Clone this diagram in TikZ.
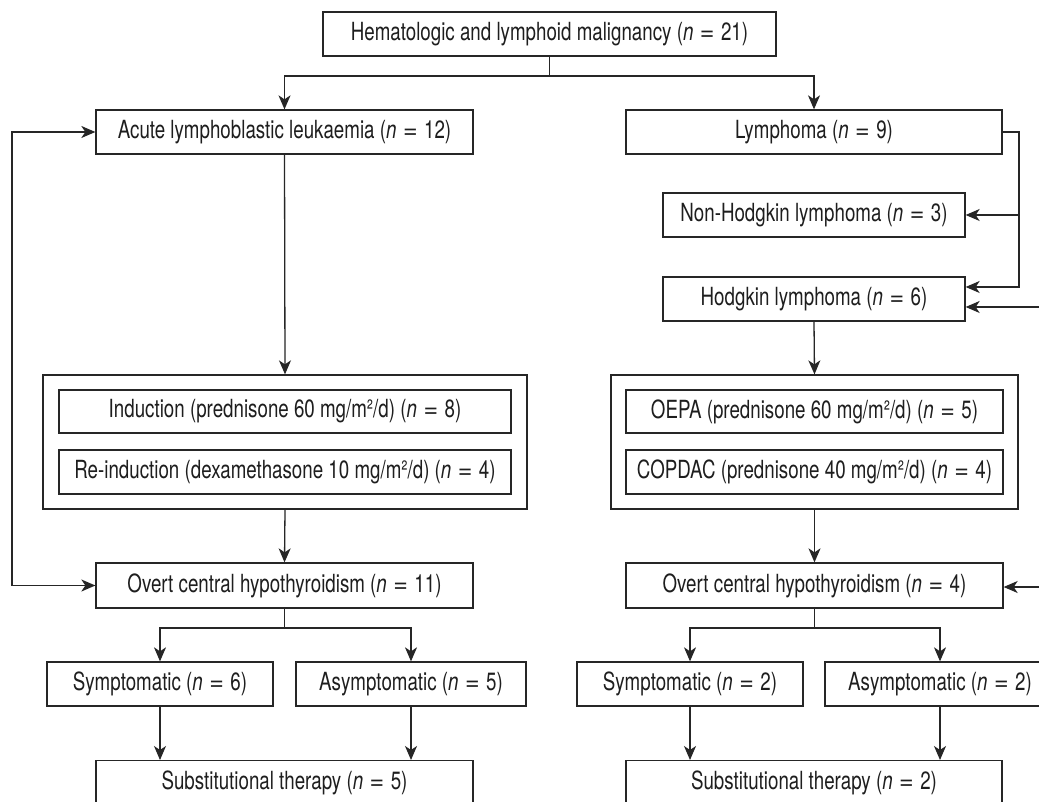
\documentclass[tikz,border=0pt]{standalone}
\usepackage{fontspec}
\setmainfont{TeX Gyre Heros}[FakeStretch=0.75]
\newfontfamily\eqfont{TeX Gyre Heros}
\newcommand{\eqs}{\hspace{0.26em}{\eqfont=}\hspace{0.26em}}
\newcommand{\nn}{\textit{n}\eqs}
\usetikzlibrary{arrows.meta}
\definecolor{lc}{HTML}{262626}
\definecolor{tc}{HTML}{1E1E1E}
\begin{document}
\begin{tikzpicture}[x=1pt,y=-1pt,
  box/.style={draw=lc, line width=1.3pt, minimum height=44pt, inner sep=0pt, text=tc, font=\fontsize{25}{28}\selectfont},
  grp/.style={draw=lc, line width=1.3pt, inner sep=0pt},
  ln/.style={draw=lc, line width=1.3pt},
  arr/.style={draw=lc, line width=1.3pt, -{Stealth[length=14pt,width=12pt,inset=4pt]}},
  arrboth/.style={draw=lc, line width=1.3pt, {Stealth[length=14pt,width=12pt,inset=4pt]}-{Stealth[length=14pt,width=12pt,inset=4pt]}}]
\useasboundingbox (0,0) rectangle (1039,802);
\clip (0,0) rectangle (1039,802);
\fill[white] (0,0) rectangle (1039,802);

% top
\node[box, minimum width=453pt] (top) at (549.5,34) {Hematologic and lymphoid malignancy (\nn 21)};
\node[box, minimum width=377pt] (all) at (284.5,132) {Acute lymphoblastic leukaemia (\nn 12)};
\node[box, minimum width=376pt] (lym) at (814,132) {Lymphoma (\nn 9)};
\node[box, minimum width=302pt] (nhl) at (814,215) {Non-Hodgkin lymphoma (\nn 3)};
\node[box, minimum width=302pt] (hod) at (814,299) {Hodgkin lymphoma (\nn 6)};

% groups
\node[grp, minimum width=484pt, minimum height=134pt] (gL) at (285,442) {};
\node[box, minimum width=452pt, minimum height=43pt] (ind) at (285,411.5) {Induction (prednisone 60 mg/m²/d) (\nn 8)};
\node[box, minimum width=452pt, minimum height=44pt] (rei) at (285,472) {Re-induction (dexamethasone 10 mg/m²/d) (\nn 4)};
\node[grp, minimum width=407pt, minimum height=134pt] (gR) at (814.5,442) {};
\node[box, minimum width=377pt, minimum height=43pt] (oepa) at (814.5,411.5) {OEPA (prednisone 60 mg/m²/d) (\nn 5)};
\node[box, minimum width=377pt, minimum height=44pt] (cop) at (814.5,472) {COPDAC (prednisone 40 mg/m²/d) (\nn 4)};

% overt
\node[box, minimum width=377pt, minimum height=45pt] (oL) at (284.5,585.5) {Overt central hypothyroidism (\nn 11)};
\node[box, minimum width=377pt, minimum height=45pt] (oR) at (814.5,585.5) {Overt central hypothyroidism (\nn 4)};

% symptomatic
\node[box, minimum width=226pt] (symL) at (160,684) {Symptomatic (\nn 6)};
\node[box, minimum width=230pt] (asymL) at (411,684) {Asymptomatic (\nn 5)};
\node[box, minimum width=226pt] (symR) at (690,684) {Symptomatic (\nn 2)};
\node[box, minimum width=230pt] (asymR) at (940,684) {Asymptomatic (\nn 2)};

% substitutional
\node[box, minimum width=377pt, anchor=north] (subL) at (284.5,760) {Substitutional therapy (\nn 5)};
\node[box, minimum width=376pt, anchor=north] (subR) at (814,760) {Substitutional therapy (\nn 2)};

% connectors
\coordinate (tb) at (549.5,76);
\draw[ln] (top.south) -- (tb);
\draw[arr] (tb) -| (all.north);
\draw[arr] (tb) -| (lym.north);

\coordinate (j1) at (1019,132);
\coordinate (j2) at (1019,287);
\draw[arr] (lym.east) -- (j1) -- (j2) -- (hod.east |- j2);
\draw[arr] (j1 |- nhl) -- (nhl.east);
\coordinate (eH) at (1050,307);
\draw[arr] (eH) -- (hod.east |- eH);

\draw[arr] (all.south) -- (gL.north);
\draw[arr] (gL.south) -- (oL.north);
\draw[arr] (hod.south) -- (gR.north);
\draw[arr] (gR.south) -- (oR.north);

\coordinate (lp) at (12,300);
\draw[arrboth] (all.west) -| (lp) |- (oL.west);

\coordinate (eO) at (1050,587);
\draw[arr] (eO) -- (oR.east |- eO);

\coordinate (bL) at (284.5,628);
\draw[ln] (oL.south) -- (bL);
\draw[arr] (bL) -| (symL.north);
\draw[arr] (bL) -| (asymL.north);
\coordinate (bR) at (814.5,628);
\draw[ln] (oR.south) -- (bR);
\draw[arr] (bR) -| (symR.north);
\draw[arr] (bR) -| (asymR.north);

\draw[arr] (symL.south) -- (symL.south |- subL.north);
\draw[arr] (asymL.south) -- (asymL.south |- subL.north);
\draw[arr] (symR.south) -- (symR.south |- subR.north);
\draw[arr] (asymR.south) -- (asymR.south |- subR.north);
\end{tikzpicture}
\end{document}
